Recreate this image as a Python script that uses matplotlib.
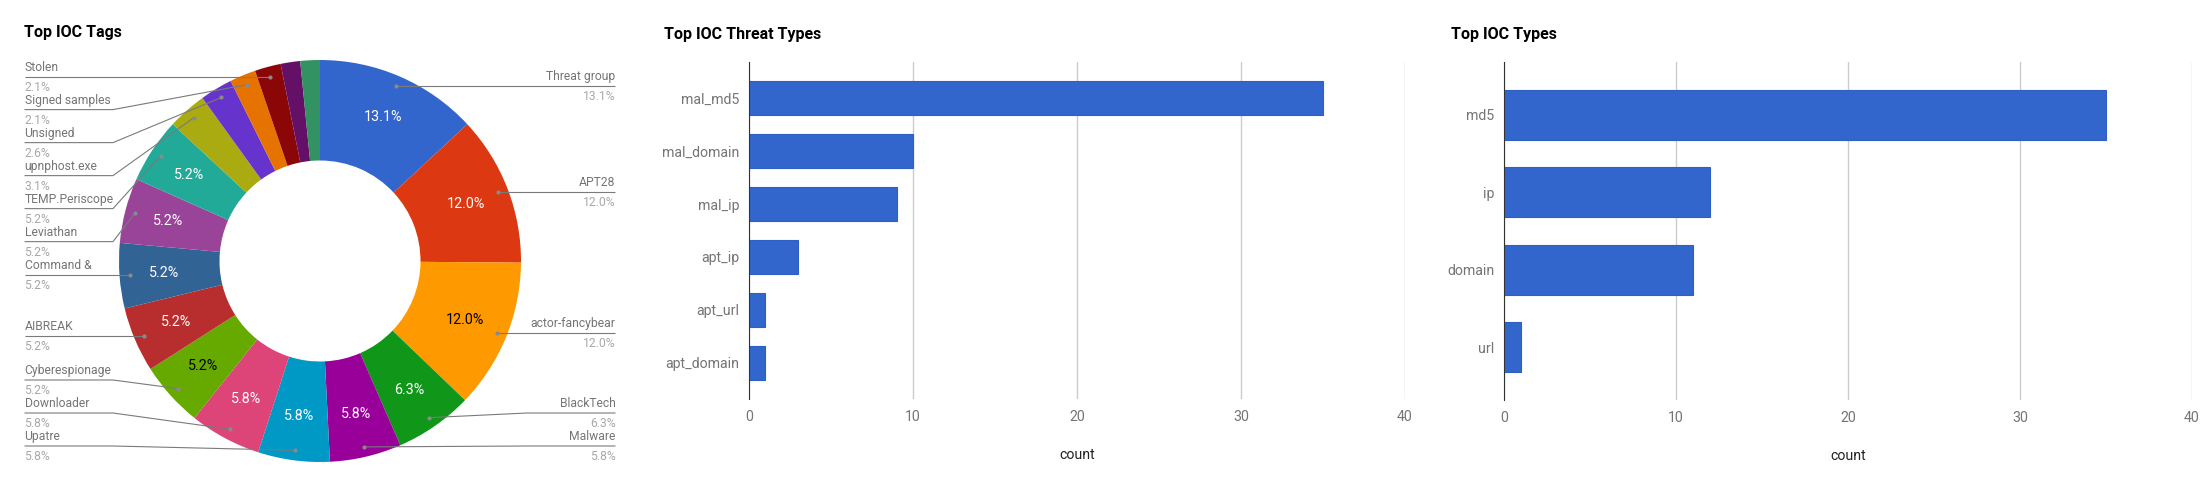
import numpy as np
import matplotlib
matplotlib.use('Agg')
import matplotlib.pyplot as plt

plt.rcParams['font.family'] = ['Roboto', 'DejaVu Sans']

# --- data ---
tag_names = ['Threat group', 'APT28', 'actor-fancybear', 'BlackTech', 'Malware', 'Upatre',
             'Downloader', 'Cyberespionage', 'AIBREAK', 'Command &', 'Leviathan', 'TEMP.Periscope',
             'upnphost.exe', 'Unsigned', 'Signed samples', 'Stolen', '', '']
tag_counts = [25, 23, 23, 12, 11, 11, 11, 10, 10, 10, 10, 10, 6, 5, 4, 4, 3, 3]

threat_types = ['mal_md5', 'mal_domain', 'mal_ip', 'apt_ip', 'apt_url', 'apt_domain']
threat_counts = [35, 10, 9, 3, 1, 1]

ioc_types = ['md5', 'ip', 'domain', 'url']
ioc_counts = [35, 12, 11, 1]

google_colors = ['#3366cc', '#dc3912', '#ff9900', '#109618', '#990099', '#0099c6',
                 '#dd4477', '#66aa00', '#b82e2e', '#316395', '#994499', '#22aa99',
                 '#aaaa11', '#6633cc', '#e67300', '#8b0707', '#651067', '#329262']

W, H = 2212, 486
fig = plt.figure(figsize=(W / 100, H / 100), dpi=100)


def px_axes(left, top, right, bottom):
    # axes from pixel box
    return fig.add_axes([left / W, 1 - bottom / H, (right - left) / W, (bottom - top) / H])


# ---------------- donut ----------------
cx, cy, R = 320, 261, 201
ax = px_axes(0, 0, 740, H)
ax.axis('off')

wedges, _ = ax.pie(tag_counts, colors=google_colors, startangle=90, counterclock=False,
                   radius=1.0, wedgeprops=dict(width=0.5, linewidth=0))
# pie resets limits, so set them afterwards (1 data unit = R pixels)
ax.set_aspect('auto')
ax.set_xlim(-cx / R, (740 - cx) / R)
ax.set_ylim(-(H - cy) / R, cy / R)

total = sum(tag_counts)
pcts = [c / total * 100 for c in tag_counts]

# slice labels
for w, p, col in zip(wedges, pcts, google_colors):
    if p < 5:
        continue
    ang = np.deg2rad((w.theta1 + w.theta2) / 2)
    rgb = matplotlib.colors.to_rgb(col)
    lum = 255 * (0.299 * rgb[0] + 0.587 * rgb[1] + 0.114 * rgb[2])
    tc = 'black' if lum > 128.5 else 'white'
    ax.text(0.78 * np.cos(ang), 0.78 * np.sin(ang), '%.1f%%' % p, color=tc,
            ha='center', va='center', fontsize=10.3)

# outside labels with leader lines
gap = 33 / R
low = -(446 - cy) / R
sides = {'L': [], 'R': []}
for i, w in enumerate(wedges):
    if not tag_names[i]:
        continue
    ang = np.deg2rad((w.theta1 + w.theta2) / 2)
    dx, dy = 0.95 * np.cos(ang), 0.95 * np.sin(ang)
    sides['L' if dx < 0 else 'R'].append([dy, dx, i])

for side, items in sides.items():
    items.sort(key=lambda t: -t[0])
    ys = []
    for k, (dy, dx, i) in enumerate(items):
        y = dy if k == 0 else min(dy, ys[-1] - gap)
        ys.append(y)
    ys[-1] = max(ys[-1], low)
    for k in range(len(ys) - 2, -1, -1):
        ys[k] = max(ys[k], ys[k + 1] + gap)
    sgn = -1 if side == 'L' else 1
    tx = sgn * 1.47
    bx = sgn * 1.03
    for (dy, dx, i), y in zip(items, ys):
        ax.plot([tx, bx, dx], [y, y, dy], color='#7a7a7a', lw=0.8, solid_capstyle='butt')
        ax.plot(dx, dy, 'o', color='#8a8a8a', ms=3, mec='none')
        ha = 'left' if side == 'L' else 'right'
        ax.text(tx, y + 3 / R, tag_names[i], ha=ha, va='bottom', fontsize=8.7, color='#757575')
        ax.text(tx, y - 4 / R, '%.1f%%' % pcts[i], ha=ha, va='top', fontsize=8.7, color='#a8a8a8')

fig.text(24 / W, 1 - 33 / H, 'Top IOC Tags', fontsize=11.5, fontweight='bold', va='center')


# ---------------- bar charts ----------------
def bar_chart(box, cats, vals, title, title_x):
    a = px_axes(*box)
    n = len(cats)
    a.barh(range(n), vals, height=0.64, color='#3366cc', edgecolor='#2f5fc4', lw=0.8, zorder=3)
    a.set_ylim(n - 1 + 0.68, -0.68)
    a.set_xlim(0, 40)
    a.set_xticks([0, 10, 20, 30, 40])
    a.set_yticks(range(n))
    a.set_yticklabels(cats)
    a.grid(axis='x', color='#cccccc', lw=1, zorder=0)
    for s in ['top', 'right', 'bottom']:
        a.spines[s].set_visible(False)
    a.spines['left'].set_color('#333333')
    a.spines['left'].set_zorder(4)
    a.tick_params(axis='both', length=0, labelsize=10.2, labelcolor='#757575')
    a.tick_params(axis='y', pad=7)
    a.tick_params(axis='x', pad=8)
    a.set_xlabel('count', fontsize=10.2, color='#222222', labelpad=17)
    fig.text(title_x / W, 1 - 35 / H, title, fontsize=11.5, fontweight='bold', va='center')
    return a


bar_chart((749, 62, 1405, 399), threat_types, threat_counts, 'Top IOC Threat Types', 664)
bar_chart((1504, 62, 2192, 400), ioc_types, ioc_counts, 'Top IOC Types', 1451)

fig.savefig('out.png', dpi=100)
